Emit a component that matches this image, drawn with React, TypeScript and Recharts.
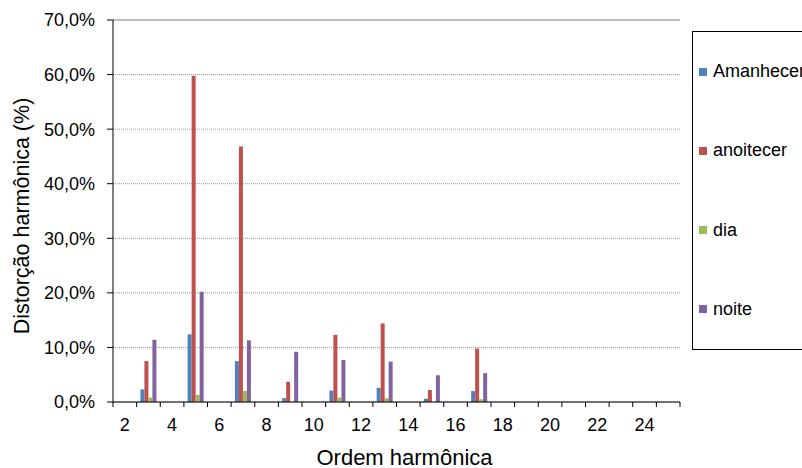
import React from 'react';
import { BarChart, Bar, XAxis, YAxis, CartesianGrid, ReferenceLine } from 'recharts';

// harmonic orders on the x axis
const harmonics = [2, 3, 4, 5, 6, 7, 8, 9, 10, 11, 12, 13, 14, 15, 16, 17, 18, 19, 20, 21, 22, 23, 24, 25];

// distortion (%) per period
const amanhecer = [0, 2.3, 0, 12.4, 0, 7.5, 0, 0.7, 0, 2.1, 0, 2.6, 0, 0.6, 0, 2.0, 0, 0, 0, 0, 0, 0, 0, 0];
const anoitecer = [0, 7.5, 0, 59.8, 0, 46.8, 0, 3.7, 0, 12.3, 0, 14.4, 0, 2.2, 0, 9.8, 0, 0, 0, 0, 0, 0, 0, 0];
const dia = [0, 0.8, 0, 1.3, 0, 2.0, 0, 0, 0, 0.8, 0, 0.7, 0, 0, 0, 0.5, 0, 0, 0, 0, 0, 0, 0, 0];
const noite = [0, 11.4, 0, 20.2, 0, 11.3, 0, 9.2, 0, 7.7, 0, 7.4, 0, 4.9, 0, 5.3, 0, 0, 0, 0, 0, 0, 0, 0];

const yTicks = [0, 10, 20, 30, 40, 50, 60, 70];

const seriesList = [
  { key: 'Amanhecer', values: amanhecer, color: '#4F81BD' },
  { key: 'anoitecer', values: anoitecer, color: '#C0504D' },
  { key: 'dia', values: dia, color: '#9BBB59' },
  { key: 'noite', values: noite, color: '#8064A2' },
];

const data = harmonics.map((h, i) => {
  const row: { [k: string]: number } = { h };
  seriesList.forEach((s) => {
    row[s.key] = s.values[i];
  });
  return row;
});

const FONT = '"Liberation Sans", Arial, sans-serif';

// tick marks sit between categories, labels only on even orders
const XTick: React.FC<any> = (props) => {
  const { x, y, payload, index, width, visibleTicksCount } = props;
  const band = width / visibleTicksCount;
  const left = x - band / 2;
  return (
    <g>
      <line x1={left} x2={left} y1={y} y2={y + 5} stroke="#000" />
      {index === visibleTicksCount - 1 && (
        <line x1={x + band / 2} x2={x + band / 2} y1={y} y2={y + 5} stroke="#000" />
      )}
      {payload.value % 2 === 0 && (
        <text x={x} y={y + 29} textAnchor="middle" fill="#000" fontSize={18} fontFamily={FONT}>
          {payload.value}
        </text>
      )}
    </g>
  );
};

// legend drawn as a plain box over the right side, as in the source
const LegendBox: React.FC = () => (
  <div
    style={{
      position: 'absolute',
      left: 692,
      top: 31,
      border: '1px solid #000',
      width: 130,
      height: 319,
      display: 'flex',
      flexDirection: 'column',
      justifyContent: 'space-around',
      boxSizing: 'border-box',
      fontFamily: FONT,
      fontSize: 18,
      color: '#000',
      background: '#fff',
    }}
  >
    {seriesList.map((s) => (
      <div key={s.key} style={{ display: 'flex', alignItems: 'center', whiteSpace: 'nowrap' }}>
        <span style={{ width: 8, height: 8, background: s.color, marginLeft: 6, marginRight: 6 }} />
        <span>{s.key}</span>
      </div>
    ))}
  </div>
);

const App: React.FC = () => {
  return (
    <div style={{ position: 'absolute', left: 0, top: 0, width: 802, height: 468, overflow: 'hidden', background: '#fff' }}>
      <BarChart
        width={802}
        height={468}
        data={data}
        margin={{ top: 20, right: 122, bottom: 0, left: 0 }}
        barCategoryGap="16%"
        barGap={0}
      >
        <CartesianGrid vertical={false} stroke="#999" strokeDasharray="1 1" />
        <XAxis
          dataKey="h"
          interval={0}
          height={66}
          axisLine={{ stroke: '#000' }}
          tickLine={false}
          tickSize={0}
          tickMargin={0}
          tick={<XTick />}
          label={(p: any) => {
            const vb = p.viewBox;
            return (
              <text x={vb.x + vb.width / 2 + 8} y={vb.y + 63} textAnchor="middle" fontSize={22} fontFamily={FONT} fill="#000">
                Ordem harmônica
              </text>
            );
          }}
        />
        <YAxis
          width={113}
          domain={[0, 70]}
          ticks={yTicks}
          interval={0}
          axisLine={{ stroke: '#000' }}
          tickLine={{ stroke: '#000' }}
          tickSize={6}
          tickMargin={12}
          tick={{ fill: '#000', fontSize: 18, fontFamily: FONT }}
          tickFormatter={(v: number) => v.toFixed(1).replace('.', ',') + '%'}
          label={() => (
            <text x={29} y={216} transform="rotate(-90, 29, 216)" textAnchor="middle" fontSize={21.5} fontFamily={FONT} fill="#000">
              Distorção harmônica (%)
            </text>
          )}
        />
        <YAxis yAxisId="border" orientation="right" width={0} tick={false} tickLine={false} axisLine={{ stroke: '#999' }} />
        <ReferenceLine y={70} stroke="#999" />
        {seriesList.map((s) => (
          <Bar key={s.key} dataKey={s.key} fill={s.color} isAnimationActive={false} />
        ))}
      </BarChart>
      <LegendBox />
    </div>
  );
};

export default App;
